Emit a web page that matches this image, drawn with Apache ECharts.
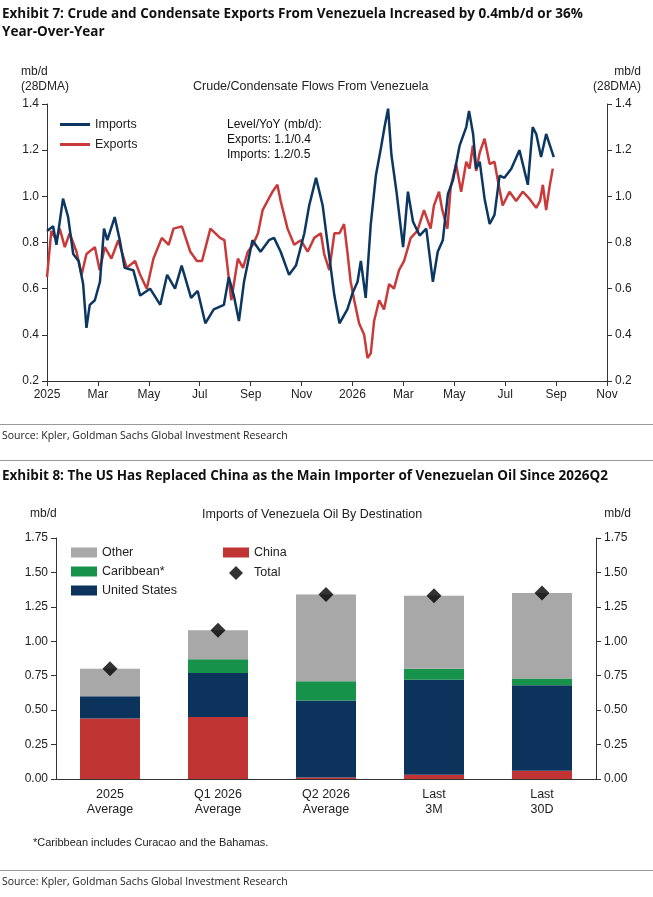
<!DOCTYPE html>
<html><head><meta charset="utf-8">
<script src="https://cdn.jsdelivr.net/npm/echarts@6/dist/echarts.min.js"></script>
<style>html,body{margin:0;padding:0;background:#fff}#c{width:653px;height:897px}</style>
</head><body><div id="c"></div>
<script>
// months since Jan 2025
const monthLabels = ['2025','Mar','May','Jul','Sep','Nov','2026','Mar','May','Jul','Sep','Nov'];
const importsM = [0,0.24,0.37,0.63,0.83,1.03,1.24,1.42,1.55,1.68,1.88,2.08,2.24,2.37,2.66,2.86,3.05,3.39,3.66,4.05,4.45,4.72,5.03,5.29,5.66,5.92,6.22,6.55,6.95,7.14,7.34,7.54,7.74,8.07,8.39,8.72,8.92,9.18,9.51,9.78,10.11,10.3,10.57,10.83,11.03,11.29,11.49,11.54,11.80,12.0,12.2,12.33,12.52,12.72,12.92,13.12,13.26,13.4,13.53,13.73,13.99,14.18,14.38,14.64,14.9,15.16,15.35,15.55,15.75,15.95,16.21,16.47,16.58,16.74,16.86,17.0,17.19,17.39,17.58,17.78,17.97,18.24,18.56,18.89,19.08,19.22,19.41,19.61,19.76,19.91];
const importsV = [0.85,0.87,0.79,0.99,0.91,0.75,0.72,0.62,0.43,0.53,0.55,0.63,0.86,0.81,0.91,0.81,0.69,0.68,0.57,0.60,0.53,0.66,0.60,0.70,0.56,0.59,0.45,0.51,0.53,0.65,0.57,0.46,0.63,0.81,0.76,0.81,0.82,0.76,0.66,0.70,0.84,0.96,1.08,0.96,0.79,0.57,0.45,0.45,0.51,0.58,0.63,0.72,0.56,0.88,1.09,1.21,1.30,1.38,1.18,1.02,0.78,1.02,0.89,0.83,0.86,0.63,0.76,0.81,1.01,1.07,1.22,1.30,1.37,1.27,1.12,1.15,0.99,0.88,0.92,1.09,1.08,1.12,1.20,1.05,1.30,1.27,1.17,1.27,1.22,1.17];
const exportsM = [0,0.17,0.37,0.50,0.70,0.89,1.16,1.36,1.55,1.88,2.07,2.27,2.53,2.80,3.13,3.46,3.66,3.92,4.18,4.51,4.78,4.97,5.30,5.63,5.89,6.09,6.42,6.80,6.97,7.24,7.50,7.70,7.89,8.09,8.29,8.47,8.86,9.05,9.18,9.45,9.71,9.97,10.24,10.5,10.76,10.89,11.09,11.29,11.49,11.67,11.80,11.93,12.07,12.26,12.46,12.59,12.72,12.85,13.05,13.24,13.44,13.63,13.83,14.03,14.29,14.55,14.81,15.07,15.2,15.4,15.53,15.73,15.86,16.07,16.27,16.47,16.6,16.73,16.86,17.0,17.19,17.39,17.58,17.71,17.9,18.17,18.43,18.69,18.95,19.22,19.37,19.48,19.61,19.74,19.87];
const exportsV = [0.65,0.85,0.81,0.86,0.78,0.84,0.76,0.66,0.75,0.78,0.68,0.78,0.73,0.81,0.69,0.72,0.66,0.60,0.73,0.82,0.79,0.86,0.87,0.76,0.72,0.72,0.86,0.82,0.81,0.55,0.73,0.69,0.76,0.79,0.84,0.94,1.02,1.05,0.98,0.86,0.79,0.81,0.76,0.82,0.84,0.75,0.68,0.84,0.84,0.88,0.76,0.63,0.55,0.45,0.40,0.30,0.32,0.46,0.55,0.51,0.62,0.60,0.68,0.72,0.82,0.85,0.94,0.86,0.96,1.02,0.94,0.86,1.04,1.14,1.02,1.15,1.12,1.22,1.11,1.19,1.25,1.14,1.15,1.07,0.96,1.02,0.98,1.02,0.99,0.95,0.98,1.05,0.94,1.04,1.12];

const barCats = ['2025\nAverage','Q1 2026\nAverage','Q2 2026\nAverage','Last\n3M','Last\n30D'];
const china = [0.44,0.45,0.01,0.03,0.06];
const us = [0.16,0.32,0.56,0.69,0.62];
const caribbean = [0.00,0.10,0.14,0.08,0.05];
const other = [0.20,0.21,0.63,0.53,0.62];
const total = [0.80,1.08,1.34,1.33,1.35];

const imp = importsM.map((m,i)=>[m,importsV[i]]);
const n = Math.min(exportsM.length, exportsV.length);
const exp = []; for(let i=0;i<n;i++) exp.push([exportsM[i],exportsV[i]]);

const F='Liberation Sans, Arial, sans-serif';
const T='Open Sans, sans-serif';
const axisLine={lineStyle:{color:'#333',width:1}};
const lab={color:'#222',fontSize:12,fontFamily:F};
const lt={fontSize:12.5,fontFamily:F,color:'#222'};
const chart=echarts.init(document.getElementById('c'));
chart.setOption({
  animation:false,
  graphic:[
    {type:'text',left:2,top:5,style:{text:'Exhibit 7: Crude and Condensate Exports From Venezuela Increased by 0.4mb/d or 36%\nYear-Over-Year',font:'bold 13.5px '+T,fill:'#111',lineHeight:18}},
    {type:'text',left:21,top:64,style:{text:'mb/d\n(28DMA)',font:'12px '+F,fill:'#222',lineHeight:15,textAlign:'left'}},
    {type:'text',right:12,top:64,style:{text:'mb/d\n(28DMA)',font:'12px '+F,fill:'#222',lineHeight:15,textAlign:'right'}},
    {type:'text',left:193,top:80,style:{text:'Crude/Condensate Flows From Venezuela',font:'12.5px '+F,fill:'#222'}},
    {type:'text',left:227,top:117,style:{text:'Level/YoY (mb/d):\nExports: 1.1/0.4\nImports: 1.2/0.5',font:'12px '+F,fill:'#111',lineHeight:15}},
    {type:'rect',shape:{x:0,y:424,width:653,height:1},style:{fill:'#999'}},
    {type:'text',left:2,top:431,style:{text:'Source: Kpler, Goldman Sachs Global Investment Research',font:'10.5px '+T,fill:'#222'}},
    {type:'rect',shape:{x:0,y:460,width:653,height:1},style:{fill:'#999'}},
    {type:'text',left:2,top:469,style:{text:'Exhibit 8: The US Has Replaced China as the Main Importer of Venezuelan Oil Since 2026Q2',font:'bold 13.5px '+T,fill:'#111'}},
    {type:'text',left:30,top:508,style:{text:'mb/d',font:'12px '+F,fill:'#222'}},
    {type:'text',right:22,top:508,style:{text:'mb/d',font:'12px '+F,fill:'#222',textAlign:'right'}},
    {type:'text',left:202,top:508,style:{text:'Imports of Venezuela Oil By Destination',font:'12.5px '+F,fill:'#222'}},
    {type:'text',left:33,top:837,style:{text:'*Caribbean includes Curacao and the Bahamas.',font:'11px '+F,fill:'#222'}},
    {type:'rect',shape:{x:0,y:870,width:653,height:1},style:{fill:'#999'}},
    {type:'text',left:2,top:877,style:{text:'Source: Kpler, Goldman Sachs Global Investment Research',font:'10.5px '+T,fill:'#222'}}
  ],
  legend:[
    {left:55,top:113,orient:'vertical',itemGap:7,itemWidth:30,itemHeight:3,icon:'rect',data:['Imports','Exports'],textStyle:lt},
    {left:66,top:541,orient:'vertical',itemGap:6,itemWidth:26,itemHeight:10,data:[{name:'Other',icon:'rect'},{name:'Caribbean*',icon:'rect'},{name:'United States',icon:'rect'}],textStyle:lt},
    {left:218,top:541,orient:'vertical',itemWidth:26,itemHeight:10,data:[{name:'China',icon:'rect'}],textStyle:lt},
    {left:224,top:561,orient:'vertical',itemWidth:14,itemHeight:14,data:[{name:'Total',icon:'diamond'}],textStyle:Object.assign({},lt,{padding:[0,0,0,6]})}
  ],
  grid:[
    {left:47,top:104,width:560,height:277},
    {left:56,top:538,width:540,height:241}
  ],
  xAxis:[
    {gridIndex:0,type:'value',min:0,max:22,interval:2,axisLine:axisLine,axisTick:{length:5,inside:false},splitLine:{show:false},
     axisLabel:Object.assign({},lab,{formatter:v=>monthLabels[v/2]})},
    {gridIndex:1,type:'category',data:barCats,axisLine:axisLine,axisTick:{length:5},axisLabel:Object.assign({},lab,{fontSize:12.5,lineHeight:15,margin:8})}
  ],
  yAxis:[
    {gridIndex:0,type:'value',min:0.2,max:1.4,interval:0.2,axisLine:Object.assign({show:true},axisLine),axisTick:{show:true,length:5},splitLine:{show:false},axisLabel:Object.assign({},lab,{formatter:v=>v.toFixed(1)})},
    {gridIndex:0,type:'value',position:'right',min:0.2,max:1.4,interval:0.2,axisLine:Object.assign({show:true},axisLine),axisTick:{show:true,length:5},splitLine:{show:false},axisLabel:Object.assign({},lab,{formatter:v=>v.toFixed(1)})},
    {gridIndex:1,type:'value',min:0,max:1.75,interval:0.25,axisLine:Object.assign({show:true},axisLine),axisTick:{show:true,length:5},splitLine:{show:false},axisLabel:Object.assign({},lab,{formatter:v=>v.toFixed(2)})},
    {gridIndex:1,type:'value',position:'right',min:0,max:1.75,interval:0.25,axisLine:Object.assign({show:true},axisLine),axisTick:{show:true,length:5},splitLine:{show:false},axisLabel:Object.assign({},lab,{formatter:v=>v.toFixed(2)})}
  ],
  series:[
    {name:'Exports',type:'line',xAxisIndex:0,yAxisIndex:0,data:exp,showSymbol:false,lineStyle:{color:'#c93a3a',width:2.5},itemStyle:{color:'#c93a3a'}},
    {name:'Imports',type:'line',xAxisIndex:0,yAxisIndex:0,data:imp,showSymbol:false,lineStyle:{color:'#0c3761',width:2.5},itemStyle:{color:'#0c3761'}},
    {name:'China',type:'bar',stack:'b',xAxisIndex:1,yAxisIndex:2,data:china,barWidth:60,itemStyle:{color:'#c03434'}},
    {name:'United States',type:'bar',stack:'b',xAxisIndex:1,yAxisIndex:2,data:us,itemStyle:{color:'#0b335c'}},
    {name:'Caribbean*',type:'bar',stack:'b',xAxisIndex:1,yAxisIndex:2,data:caribbean,itemStyle:{color:'#17924a'}},
    {name:'Other',type:'bar',stack:'b',xAxisIndex:1,yAxisIndex:2,data:other,itemStyle:{color:'#a8a8a8'}},
    {name:'Total',type:'scatter',xAxisIndex:1,yAxisIndex:2,data:total,symbol:'diamond',symbolSize:15,itemStyle:{color:'#000'},z:5}
  ]
});
</script></body></html>
